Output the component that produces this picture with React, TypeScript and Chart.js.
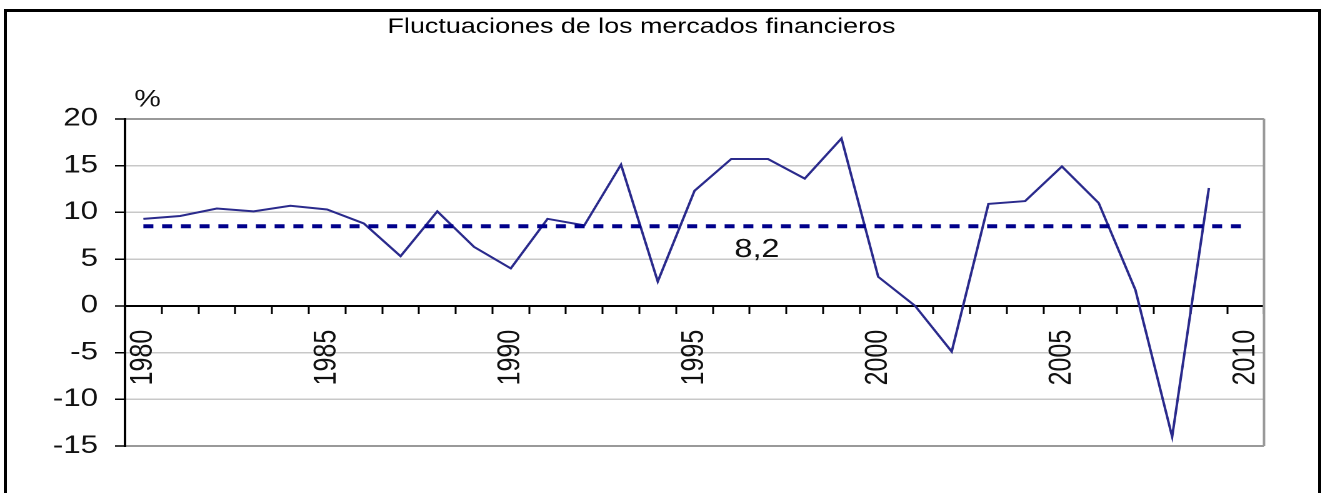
import { useEffect, useRef } from 'react';
import { Chart, registerables } from 'chart.js';

Chart.register(...registerables);

// ---- data ----
const TITLE = 'Fluctuaciones de los mercados financieros';
const UNIT = '%';
const YEARS = [
  '1980', '1981', '1982', '1983', '1984', '1985', '1986', '1987', '1988', '1989',
  '1990', '1991', '1992', '1993', '1994', '1995', '1996', '1997', '1998', '1999',
  '2000', '2001', '2002', '2003', '2004', '2005', '2006', '2007', '2008', '2009', '2010',
];
const RETURNS: (number | null)[] = [
  9.3, 9.6, 10.4, 10.1, 10.7, 10.3, 8.8, 5.3, 10.1, 6.3,
  4.0, 9.3, 8.6, 15.1, 2.6, 12.3, 15.7, 15.7, 13.6, 17.9,
  3.1, 0.0, -4.9, 10.9, 11.2, 14.9, 11.0, 1.7, -14.0, 12.6, null,
];
const AVERAGE = 8.5;
const AVERAGE_LABEL = '8,2';
const LABEL_EVERY = 5;
const Y_MIN = -15;
const Y_MAX = 20;
const Y_STEP = 5;

// ---- layout / style ----
const SX = 1.25;
const CW = 1057;
const CH = 493;
const FONT = '"Liberation Sans", Arial, Helvetica, sans-serif';
const TEXT = '#111';

const extrasPlugin = {
  id: 'extras',
  afterDatasetsDraw(chart: any) {
    const { ctx, chartArea, scales } = chart;
    const x = scales.x;
    const y = scales.y;
    ctx.save();
    // right frame of the plot
    ctx.strokeStyle = '#999';
    ctx.lineWidth = 2;
    ctx.beginPath();
    ctx.moveTo(chartArea.right, chartArea.top);
    ctx.lineTo(chartArea.right, chartArea.bottom);
    ctx.stroke();
    ctx.fillStyle = TEXT;
    ctx.textAlign = 'center';
    ctx.textBaseline = 'middle';
    ctx.font = `24px ${FONT}`;
    ctx.fillText(UNIT, chartArea.left + 18, y.getPixelForValue(Y_MAX) - 19);
    const step = x.getPixelForValue(1) - x.getPixelForValue(0);
    ctx.font = `26px ${FONT}`;
    ctx.fillText(AVERAGE_LABEL, x.getPixelForValue(17) - 0.3 * step, y.getPixelForValue(6));
    ctx.restore();
  },
};

export default function App() {
  const ref = useRef<HTMLCanvasElement>(null);
  useEffect(() => {
    if (!ref.current) return;
    const chart = new Chart(ref.current, {
      type: 'line',
      data: {
        labels: YEARS,
        datasets: [
          {
            label: 'Media',
            data: YEARS.map(() => AVERAGE),
            borderColor: '#00008b',
            borderWidth: 4,
            borderDash: [8, 7],
            pointRadius: 0,
            tension: 0,
          },
          {
            label: 'Rentabilidad',
            data: RETURNS,
            borderColor: '#2a2a8c',
            borderWidth: 2,
            pointRadius: 0,
            tension: 0,
          },
        ],
      },
      options: {
        animation: false,
        responsive: true,
        maintainAspectRatio: false,
        devicePixelRatio: 2,
        layout: { padding: { left: 15.2, right: 45.8, top: 0, bottom: 47 } },
        plugins: {
          legend: { display: false },
          tooltip: { enabled: false },
          title: {
            display: true,
            text: TITLE,
            color: '#000',
            font: { size: 21.5, family: FONT, weight: 'normal' },
            padding: { top: 14, bottom: 79 },
          },
        },
        scales: {
          x: {
            type: 'category',
            position: { y: 0 } as any,
            offset: true,
            grid: {
              display: true,
              offset: true,
              drawOnChartArea: false,
              drawTicks: true,
              tickLength: 7,
              tickColor: '#000',
              tickWidth: 1.5,
            },
            border: { display: true, color: '#000', width: 2 },
            ticks: {
              autoSkip: false,
              minRotation: 90,
              maxRotation: 90,
              padding: 17,
              color: TEXT,
              font: { size: 25, family: FONT },
              callback: (_v: any, i: number) =>
                Number(YEARS[i]) % LABEL_EVERY === 0 ? YEARS[i] : '',
            },
          },
          y: {
            min: Y_MIN,
            max: Y_MAX,
            afterFit: (s: any) => {
              s.width = 84.8;
            },
            ticks: {
              stepSize: Y_STEP,
              padding: 13.6,
              color: TEXT,
              font: { size: 25, family: FONT },
              callback: (v: any) => String(v),
            },
            grid: {
              color: (c: any) => {
                const v = c.tick ? c.tick.value : null;
                if (v === 0) return '#000';
                if (v === Y_MAX || v === Y_MIN) return '#999';
                return '#c8c8c8';
              },
              lineWidth: (c: any) => {
                const v = c.tick ? c.tick.value : null;
                if (v === 0 || v === Y_MAX || v === Y_MIN) return 2;
                return 1.5;
              },
              tickColor: '#000',
              tickLength: 8,
              tickWidth: 1.5,
            },
            border: { display: true, color: '#000', width: 2 },
          },
        },
      },
      plugins: [extrasPlugin],
    });
    return () => chart.destroy();
  }, []);

  return (
    <div
      style={{
        position: 'absolute',
        left: 0,
        top: 0,
        width: 1321,
        height: 493,
        overflow: 'hidden',
        background: '#fff',
      }}
    >
      <div
        style={{
          position: 'absolute',
          left: 0,
          top: 0,
          width: CW,
          height: CH,
          transform: `scaleX(${SX})`,
          transformOrigin: '0 0',
        }}
      >
        <canvas ref={ref} />
      </div>
      <div
        style={{
          position: 'absolute',
          left: 4,
          top: 9,
          width: 1317,
          height: 600,
          boxSizing: 'border-box',
          border: '3px solid #000',
          pointerEvents: 'none',
        }}
      />
    </div>
  );
}
